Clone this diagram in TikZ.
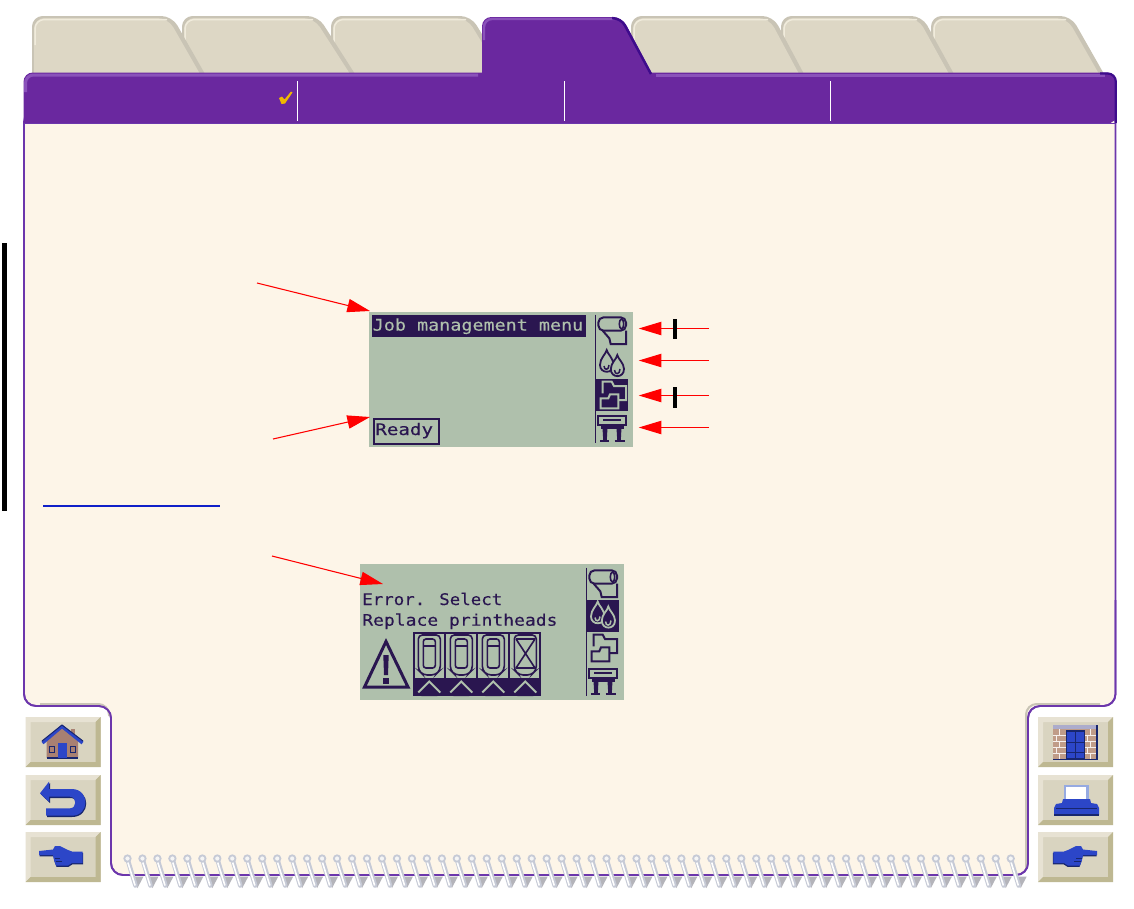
\documentclass[tikz,border=0pt]{standalone}
\usepackage{fontspec}
\usepackage{graphicx}
\usetikzlibrary{arrows.meta}
\newfontfamily\lcdfont[FakeBold=0.25]{DejaVu Sans Mono}
\definecolor{purp}{HTML}{6A289F}
\definecolor{purphi}{HTML}{8A52BA}
\definecolor{purpdk}{HTML}{3E0C8C}
\definecolor{purpline}{HTML}{6C36AC}
\definecolor{cream}{HTML}{FDF5E8}
\definecolor{tabfill}{HTML}{DDD7C5}
\definecolor{tabshade}{HTML}{C9C4B5}
\definecolor{tabhi}{HTML}{F0EBDC}
\definecolor{lcdbg}{HTML}{AFC0AC}
\definecolor{lcdink}{HTML}{2A1650}
\definecolor{btn}{HTML}{D9D4C0}
\definecolor{btnhi}{HTML}{E7E2D3}
\definecolor{btnlo}{HTML}{BEB892}
\definecolor{iconblue}{HTML}{2C46C8}
\definecolor{icondark}{HTML}{18266E}
\definecolor{brick}{HTML}{C09C88}
\definecolor{house}{HTML}{A88072}
\definecolor{ringc}{HTML}{C6CAD6}
\definecolor{ringd}{HTML}{B4B4BA}
\definecolor{tickc}{HTML}{F0B800}
\definecolor{linkc}{HTML}{1020C8}
\definecolor{doorbg}{HTML}{ACACCC}
\definecolor{papershade}{HTML}{96AAE1}
\tikzset{
  px/.style={line width=#1*0.75pt},
  lcdtext/.style={anchor=base west,inner sep=0pt,font=\lcdfont\fontsize{12pt}{12pt}\selectfont},
  redarrow/.style={draw=red,line width=0.8pt,-{Triangle[length=17pt,width=10pt,fill=red]}},
}
% --- LCD icons, in the coordinates of the first display
\newcommand\iconroll[1]{%
  \draw[#1,px=2,rounded corners=4pt] (598.3,317.3) -- (626,317.3) -- (626,330.7) -- (598.3,330.7) -- cycle;
  \draw[#1,px=1.6] (621.5,324) ellipse [x radius=2.2,y radius=5];
  \draw[#1,px=2] (602.7,330.7) -- (609.3,338.3) -- (610.7,344) -- (626,344) -- (626,330.7);
}
\newcommand\icondrops[2]{%
  \draw[#1,px=1.8,fill=#2] (606.7,350) .. controls (606,354) and (600,358) .. (600,365) .. controls (600,374) and (613.5,374) .. (613.5,365) .. controls (613.5,358) and (607.4,354) .. (606.7,350) -- cycle;
  \draw[#1,px=1.8,fill=#2] (617.3,355) .. controls (616.6,359) and (610.8,363) .. (610.8,369) .. controls (610.8,378.5) and (624,378.5) .. (624,369) .. controls (624,363) and (618,359) .. (617.3,355) -- cycle;
  \draw[#1,px=1.5] (604,366) .. controls (604,370.5) and (609,370.5) .. (609,365);
  \draw[#1,px=1.5] (614.5,370) .. controls (614.5,375) and (620,375) .. (620,369);
}
\newcommand\iconfolders[2]{%
  \draw[#1,px=2] (602.7,393.3) -- (602.7,381.7) -- (611.7,381.7) -- (614,386) -- (626,386) -- (626,400) -- (618.3,400);
  \draw[#1,px=2,fill=#2] (600.7,408.3) -- (600.7,398.3) -- (608.3,398.3) -- (610,394.3) -- (618.3,394.3) -- (618.3,408.3) -- cycle;
}
\newcommand\iconplot[1]{%
  \draw[#1,px=2] (598.3,416) rectangle (626,425);
  \draw[#1,px=2] (603,419.5) -- (621,419.5);
  \draw[#1,px=3] (601,427.5) -- (624,427.5);
  \fill[#1] (602.5,428) -- (607.5,428) -- (606.8,440) -- (603.2,440) -- cycle;
  \fill[#1] (616.5,428) -- (621.5,428) -- (620.8,440) -- (617.2,440) -- cycle;
  \draw[#1,px=2] (600,441) -- (609,441) (614.5,441) -- (625,441);
}
\newcommand\cartridge[1]{%
  \draw[lcdink,px=1.6,rounded corners=3pt] (#1+5,635) -- (#1+27,635) -- (#1+27,670) -- (#1+22,675) -- (#1+10,675) -- (#1+5,670) -- cycle;
  \draw[lcdink,px=1.6,rounded corners=2pt] (#1+10,639) rectangle (#1+22,668);
  \draw[lcdink,px=1.4] (#1+10,646) -- (#1+22,646);
}
\newcommand\chevron[1]{%
  \fill[lcdink] (#1+16,682) -- (#1+24,689) -- (#1+24,696) -- (#1+8,696) -- (#1+8,689) -- cycle;
  \draw[lcdbg,px=2] (#1+5,692.5) -- (#1+16,681.5) -- (#1+27,692.5);
}
\newcommand\bevelbutton[2]{%
  \fill[btn] (#1,#2) rectangle (#1+75,#2+50);
  \fill[btnhi] (#1,#2) -- (#1+75,#2) -- (#1+70,#2+5) -- (#1+5,#2+5) -- (#1+5,#2+45) -- (#1,#2+50) -- cycle;
  \fill[btnlo] (#1+75,#2) -- (#1+75,#2+50) -- (#1,#2+50) -- (#1+5,#2+45) -- (#1+70,#2+45) -- (#1+70,#2+5) -- cycle;
}
\newcommand\handpath{(39,851) -- (53,849.5) -- (55,846) -- (60,846) -- (68,850) -- (72,851.5) -- (82.7,851.5) -- (82.7,863) -- (72,863) -- (68,865.5) -- (56,865.5) -- (54,860) -- (53,855) -- (39,855) -- cycle}
\newcommand\handicon{%
  \fill[icondark,shift={(0.5,1.3)}] \handpath;
  \fill[iconblue] \handpath;
  \draw[icondark,px=0.9] (54.5,858) -- (60,858) (55.5,861.5) -- (62,861.5);
}
\begin{document}
\begin{tikzpicture}[x=0.75pt,y=-0.75pt]
\useasboundingbox (0,0) rectangle (1134,908);
\fill[white] (0,0) rectangle (1134,908);
% inactive tabs, rightmost first: each tab lies over the next one
\foreach \ta/\tb/\tc in {932/1069/1103,782/920/953,632/771/803,332/469/505,183/316/354,33/170/204}{
  \fill[tabshade,rounded corners=8pt] (\ta-1,74) -- (\ta-1,16) -- (\tb+2,16) [sharp corners] -- (\tc+1,74) -- cycle;
  \fill[tabfill,rounded corners=8pt] (\ta+1,74) -- (\ta+1,18) -- (\tb-2,18) [sharp corners] -- (\tc-4,74) -- cycle;
  \draw[tabhi,px=1.5,rounded corners=7pt] (\ta+2,45) -- (\ta+2,19.5) -- (\tb-3,19.5);
}
% page body
\draw[draw=purpline,px=1.8,fill=cream,rounded corners=9pt] (24,110) -- (24,706) -- (111,706) -- (111,875) -- (1028,875) -- (1028,706) -- (1115.5,706) -- (1115.5,110) -- cycle;
\draw[tabshade,px=2,rounded corners=8pt] (40,704) -- (109,704) -- (109,716);
\draw[tabshade,px=2,rounded corners=8pt] (1026,868) -- (1026,704) -- (1100,704);
\draw[purpline,px=1.8,rounded corners=9pt] (24,600) -- (24,706) -- (111,706) -- (111,875) -- (1028,875) -- (1028,706) -- (1115.5,706) -- (1115.5,600);
% header with active tab
\fill[purp,rounded corners=7pt] (23.5,123.5) -- (23.5,72.5) -- (1116.5,72.5) -- (1116.5,123.5) [sharp corners] -- cycle;
\fill[purp,rounded corners=7pt] (482,90) -- (482,17) -- (622,17) [sharp corners] -- (652,74) -- (652,90) -- cycle;
\draw[purphi,px=3,rounded corners=6pt] (25.5,92) -- (25.5,75) -- (478,75);
\draw[purphi,px=2.4,rounded corners=6pt] (484,40) -- (484,19) -- (615,19);
\draw[purphi,px=3] (656,75) -- (1105,75);
\draw[purpdk,px=2.5,rounded corners=6pt] (612,18.2) -- (621,18.2) -- (651,74);
\draw[purpdk,px=2.2,rounded corners=6pt] (1100,73.5) -- (1115.8,73.5) -- (1115.8,123);
\draw[purpline,px=1.5] (24,123.5) -- (1116,123.5);
% header dividers and tick
\foreach \sx in {297.5,564,830}{\draw[white,px=1] (\sx,81) -- (\sx,121);}
\fill[tickc] (279,98) -- (282,96.5) -- (284.5,99.5) -- (291,91.5) -- (292.5,92.5) -- (285,103.5) -- (281.5,104) -- cycle;
% spiral binding
\foreach \i [evaluate=\i as \rx using {127.5+14.97*\i}] in {0,...,59}{
  \fill[ringd] (\rx+5,876.5) -- (\rx+16,876.5) -- (\rx+10,888) -- cycle;
  \draw[ringc,px=4.6,line cap=round] (\rx,859) -- (\rx+8,885.5);
  \draw[white,px=1.6] (\rx-0.4,860) -- (\rx+7.6,885.5);
  \draw[ringc,px=1.8,fill=white!92!gray] (\rx,858.5) circle [radius=3.2];
}
% side bar and link rule
\fill[black] (2,243) rectangle (7,511);
\draw[linkc,px=1.2] (43,506) -- (220,506);
% first display
\node[fill=lcdbg,minimum width=263.5*0.75pt,minimum height=135*0.75pt,inner sep=0pt,anchor=north west] (lcda) at (369,312) {};
\fill[lcdink] (372,315) rectangle (586,336.8);
\node[lcdtext,text=lcdbg] (joblabel) at (372.5,330.6) {\scalebox{1.15}[1]{Job management menu}};
\draw[lcdink,px=1.6] (595.3,314.7) -- (595.3,442.7);
\fill[lcdink] (595,379) rectangle (628,410.8);
\iconroll{lcdink}
\icondrops{lcdink}{lcdbg}
\iconfolders{lcdbg}{lcdink}
\iconplot{lcdink}
\node[draw=lcdink,px=2,inner sep=0pt,minimum width=65*0.75pt,minimum height=24.5*0.75pt,anchor=north west] (readybox) at (373,418) {};
\node[lcdtext,text=lcdink] (readylabel) at (375,435) {\scalebox{1.2}[1]{Ready}};
% second display
\node[fill=lcdbg,minimum width=264*0.75pt,minimum height=136*0.75pt,inner sep=0pt,anchor=north west] (lcdb) at (360,564) {};
\node[lcdtext,text=lcdink] (errlabel) at (362,605) {\scalebox{1.09}[1]{Error. Select}};
\node[lcdtext,text=lcdink] (replabel) at (362,625.7) {\scalebox{1.126}[1]{Replace printheads}};
\begin{scope}[shift={(-9,253)}]
  \draw[lcdink,px=1.6] (595.3,314.7) -- (595.3,443);
  \iconroll{lcdink}
  \iconfolders{lcdink}{lcdbg}
  \iconplot{lcdink}
\end{scope}
\fill[lcdink] (585.5,600) rectangle (618.8,631.7);
\begin{scope}[shift={(-9,251.5)}]
  \icondrops{lcdbg}{lcdink}
\end{scope}
% warning triangle
\draw[lcdink,px=3,line join=miter] (386,641.5) -- (364.5,687) -- (408,687) -- cycle;
\fill[lcdink] (383.3,655) -- (388.7,655) -- (388,675) -- (384,675) -- cycle;
\fill[lcdink] (383.3,678) rectangle (388.7,684);
% cartridges
\draw[lcdink,px=2] (414.3,633) rectangle (540,679);
\foreach \cx in {445.3,477.3,509.3}{\draw[lcdink,px=2] (\cx,633) -- (\cx,679);}
\cartridge{413.3}
\cartridge{445.3}
\cartridge{477.3}
\draw[lcdink,px=1.6,rounded corners=3pt] (514.3,635) -- (536.3,635) -- (536.3,670) -- (531.3,675) -- (519.3,675) -- (514.3,670) -- cycle;
\draw[lcdink,px=1.6] (516,639) -- (535,668) (535,639) -- (516,668);
\draw[lcdink,px=1.6] (516,639) -- (535,639) (516,668) -- (535,668);
\fill[lcdink] (413.3,678.3) rectangle (541,696);
\foreach \cx in {413.3,445.3,477.3,509.3}{\chevron{\cx}}
% arrows
\coordinate (ata) at (257,283);
\coordinate (atb) at (370,311);
\coordinate (arda) at (273,439);
\coordinate (ardb) at (370,417);
\coordinate (aea) at (272,556);
\coordinate (aeb) at (383,584);
\coordinate (a1s) at (709,328.5);
\coordinate (a1t) at (638.7,328.5);
\coordinate (a2s) at (709,360.5);
\coordinate (a2t) at (638.7,360.5);
\coordinate (a3s) at (709,395.5);
\coordinate (a3t) at (638.7,395.5);
\coordinate (a4s) at (709,427.5);
\coordinate (a4t) at (638.7,427.5);
\draw[redarrow] (ata) -- (atb);
\draw[redarrow] (arda) -- (ardb);
\draw[redarrow] (aea) -- (aeb);
\draw[redarrow] (a1s) -- (a1t);
\draw[redarrow] (a2s) -- (a2t);
\draw[redarrow] (a3s) -- (a3t);
\draw[redarrow] (a4s) -- (a4t);
\fill[black] (673,319) rectangle (677,339);
\fill[black] (673,387) rectangle (677,407.7);
% navigation buttons
\foreach \by in {717,775,832}{\bevelbutton{25.5}{\by}\bevelbutton{1038}{\by}}
% home
\fill[house] (46.5,740) -- (62,727) -- (78,740) -- (78,757.5) -- (46.5,757.5) -- cycle;
\fill[house] (71,729) rectangle (75,738);
\draw[icondark,px=1.3] (46.5,758) -- (78,758);
\draw[iconblue,px=3.2,line join=round] (42.5,743) -- (62,726.5) -- (82.5,743);
\draw[icondark,px=1] (42,741) -- (62,725) -- (83,741);
\fill[iconblue] (58.3,743) rectangle (66.7,757.5);
\draw[icondark,px=1,fill=house] (49.5,746.5) rectangle (54,752.5);
\draw[icondark,px=1,fill=house] (70.5,746.5) rectangle (75,752.5);
% back arrow
\fill[icondark] (41,794.5) -- (50,783) -- (50,790) -- (72,790) .. controls (91,790) and (91,817) .. (72,817) -- (47,817) -- (47,809.5) -- (71,809.5) .. controls (78,809.5) and (78,798) .. (71,798) -- (50,798) -- (50,803) -- cycle;
\fill[iconblue] (40,793.3) -- (49,781.7) -- (49,789) -- (71.7,789) .. controls (90,789) and (90,815.7) .. (71.7,815.7) -- (46,815.7) -- (46,808.3) -- (70,808.3) .. controls (77,808.3) and (77,796.7) .. (70,796.7) -- (49,796.7) -- (49,801.7) -- cycle;
% left and right pointing hands
\handicon
\begin{scope}[shift={(1136,0)},xscale=-1]
  \handicon
\end{scope}
% door
\fill[doorbg] (1053,725) rectangle (1097,759);
\fill[brick] (1053,729) rectangle (1097,759);
\foreach \ly in {735,741,747,753}{\draw[white!85!brick,px=1] (1053,\ly) -- (1097,\ly);}
\foreach \bx/\by in {1059/729,1090/729,1056/735,1087/735,1059/741,1090/741,1056/747,1087/747,1059/753,1090/753}{\draw[white!85!brick,px=1] (\bx,\by) -- (\bx,\by+6);}
\fill[icondark] (1096,725) rectangle (1098,759);
\draw[icondark,px=1.3] (1053,759.5) -- (1098,759.5);
\fill[icondark] (1065.5,730) rectangle (1085,759);
\fill[iconblue] (1067,731.5) rectangle (1083.5,758);
\draw[icondark,px=1] (1067,742) -- (1083.5,742) (1067,752) -- (1083.5,752) (1075.2,731.5) -- (1075.2,758);
% printer
\fill[papershade] (1064,785) rectangle (1089,800);
\fill[white] (1066,787) rectangle (1086,800);
\fill[iconblue] (1063,799) -- (1090,799) -- (1091,803) -- (1097,804) -- (1099,808) -- (1099,815) -- (1054,815) -- (1054,808) -- (1056,804) -- (1062,803) -- cycle;
\draw[icondark,px=1.2] (1054,815) -- (1099,815);
\draw[icondark,px=1] (1056,808) -- (1097,808);
\end{tikzpicture}
\end{document}
